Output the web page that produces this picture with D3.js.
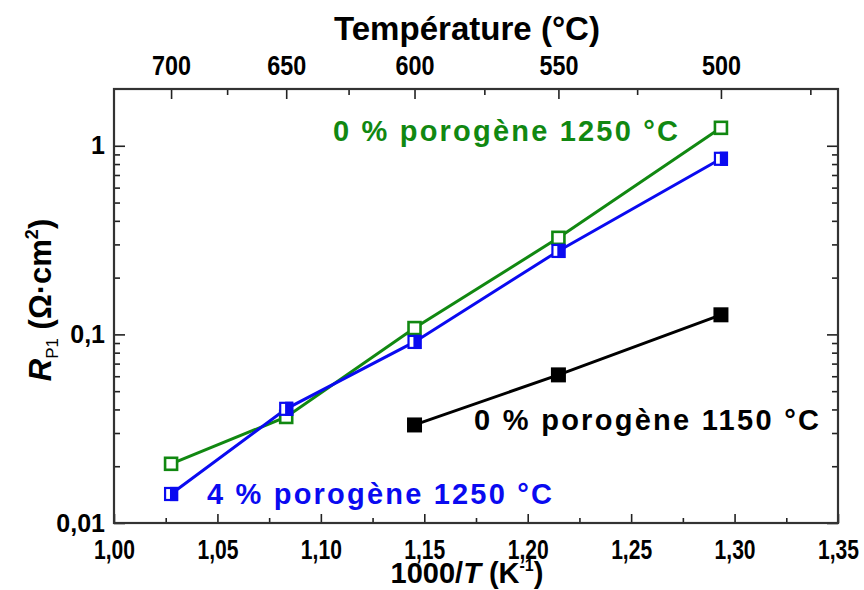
<!DOCTYPE html>
<html>
<head>
<meta charset="utf-8">
<script src="https://cdn.jsdelivr.net/npm/d3@7"></script>
<style>
  body { margin: 0; background: #fff; }
  svg text { font-family: "Liberation Sans", Arial, sans-serif; }
</style>
</head>
<body>
<svg id="chart" width="864" height="590"></svg>
<script>
// temperatures (°C) of the measurement points, x = 1000/T(K)
var tempsC = [700, 650, 600, 550, 500];
var tempsBlack = [600, 550, 500];

// R_P1 values (ohm.cm2)
var rGreen = [0.0206, 0.0365, 0.108, 0.325, 1.245];   // 0 % porogene 1250 °C
var rBlue  = [0.01425, 0.0403, 0.0912, 0.277, 0.853]; // 4 % porogene 1250 °C
var rBlack = [0.0331, 0.061, 0.127];                  // 0 % porogene 1150 °C

var xMajor = [1.00, 1.05, 1.10, 1.15, 1.20, 1.25, 1.30, 1.35];
var xMinor = [1.025, 1.075, 1.125, 1.175, 1.225, 1.275, 1.325];
var topMajor = [700, 650, 600, 550, 500];
var topMinor = [675, 625, 575, 525, 475];
var yMajor = [0.01, 0.1, 1];
var yLabels = ["0,01", "0,1", "1"];

var toX = function(c) { return 1000 / (c + 273.15); };

var margin = {left: 114, top: 89, right: 26, bottom: 67};
var width = 864 - margin.left - margin.right;
var height = 590 - margin.top - margin.bottom;

var svg = d3.select("#chart");
var g = svg.append("g").attr("transform", "translate(" + margin.left + "," + margin.top + ")");

var x = d3.scaleLinear().domain([1.00, 1.35]).range([0, width]);
var y = d3.scaleLog().domain([0.01, 2.0]).range([height, 0]);

var yMinor = [];
[0.01, 0.1, 1].forEach(function(d) {
  for (var k = 2; k <= 9; k++) { if (d * k < 2.0) yMinor.push(d * k); }
});

function styleAxis(sel) {
  sel.select(".domain").remove();
  sel.selectAll("line").attr("stroke", "#222").attr("stroke-width", 1.6);
  return sel;
}

// narrow bold tick labels: squeeze the glyphs to the width seen in the chart
function narrowLabels(s) {
  s.selectAll("text")
      .attr("font-size", 27).attr("font-weight", "bold").attr("fill", "#000")
      .attr("lengthAdjust", "spacingAndGlyphs")
      .attr("textLength", function() { return this.textContent.length > 3 ? 41 : 39; });
}

// bottom axis
g.append("g").attr("transform", "translate(0," + height + ")")
    .call(d3.axisBottom(x).tickValues(xMinor).tickSize(-5).tickFormat(""))
    .call(styleAxis);
g.append("g").attr("transform", "translate(0," + height + ")")
    .call(d3.axisBottom(x).tickValues(xMajor).tickSizeInner(-9).tickSizeOuter(0).tickPadding(17)
      .tickFormat(function(d) { return d3.format(".2f")(d).replace(".", ","); }))
    .call(styleAxis)
    .call(narrowLabels);

// top axis (temperature)
g.append("g")
    .call(d3.axisTop(x).tickValues(topMinor.map(toX)).tickSize(-6).tickFormat(""))
    .call(styleAxis);
g.append("g")
    .call(d3.axisTop(x).tickValues(topMajor.map(toX)).tickSizeInner(-10).tickSizeOuter(0).tickPadding(14)
      .tickFormat(function(d, i) { return topMajor[i]; }))
    .call(styleAxis)
    .call(narrowLabels);

// left axis
g.append("g")
    .call(d3.axisLeft(y).tickValues(yMinor).tickSize(-6).tickFormat(""))
    .call(styleAxis);
g.append("g")
    .call(d3.axisLeft(y).tickValues(yMajor).tickSizeInner(-11).tickSizeOuter(0).tickPadding(9)
      .tickFormat(function(d, i) { return yLabels[i]; }))
    .call(styleAxis)
    .call(function(s) {
      s.selectAll("text").attr("font-size", 25).attr("font-weight", "bold").attr("fill", "#000");
    });

// right axis (mirror, no labels)
g.append("g").attr("transform", "translate(" + width + ",0)")
    .call(d3.axisRight(y).tickValues(yMinor).tickSize(-6).tickFormat(""))
    .call(styleAxis);
g.append("g").attr("transform", "translate(" + width + ",0)")
    .call(d3.axisRight(y).tickValues(yMajor).tickSize(-11).tickFormat(""))
    .call(styleAxis);

// frame
g.append("rect").attr("width", width).attr("height", height)
    .attr("fill", "none").attr("stroke", "#333").attr("stroke-width", 2.2);

// series
var series = [
  {temps: tempsC, vals: rGreen, color: "#118811", kind: "open"},
  {temps: tempsC, vals: rBlue, color: "#0a0af0", kind: "half"},
  {temps: tempsBlack, vals: rBlack, color: "#000", kind: "filled"}
];

var line = d3.line()
    .x(function(d) { return x(toX(d[0])); })
    .y(function(d) { return y(d[1]); });

series.forEach(function(s) {
  var pts = d3.zip(s.temps, s.vals);
  g.append("path").datum(pts)
      .attr("d", line).attr("fill", "none")
      .attr("stroke", s.color).attr("stroke-width", 3);
});

var sz = 12;
series.forEach(function(s) {
  var pts = d3.zip(s.temps, s.vals);
  var mk = g.append("g").selectAll("g").data(pts).join("g")
      .attr("transform", function(d) { return "translate(" + x(toX(d[0])) + "," + y(d[1]) + ")"; });
  if (s.kind === "open") {
    mk.append("rect").attr("x", -sz / 2).attr("y", -sz / 2).attr("width", sz).attr("height", sz)
        .attr("fill", "#fff").attr("stroke", s.color).attr("stroke-width", 2.6);
  } else if (s.kind === "half") {
    mk.append("rect").attr("x", -sz / 2).attr("y", -sz / 2).attr("width", sz).attr("height", sz)
        .attr("fill", "#fff").attr("stroke", s.color).attr("stroke-width", 2.2);
    mk.append("rect").attr("x", 0).attr("y", -sz / 2).attr("width", sz / 2).attr("height", sz)
        .attr("fill", s.color).attr("stroke", s.color).attr("stroke-width", 2.2);
  } else {
    mk.append("rect").attr("x", -sz / 2 - 1.5).attr("y", -sz / 2 - 1.5).attr("width", sz + 3).attr("height", sz + 3)
        .attr("fill", s.color);
  }
});

// series labels
var labels = [
  {text: "0 % porogène 1250 °C", x: 333, y: 141, color: "#118811"},
  {text: "4 % porogène 1250 °C", x: 207, y: 504, color: "#0a0af0"},
  {text: "0 % porogène 1150 °C", x: 474, y: 430, color: "#000"}
];
svg.append("g").selectAll("text").data(labels).join("text")
    .attr("x", function(d) { return d.x; }).attr("y", function(d) { return d.y; })
    .attr("fill", function(d) { return d.color; })
    .attr("font-size", 29).attr("font-weight", "bold")
    .attr("lengthAdjust", "spacing").attr("textLength", 345)
    .text(function(d) { return d.text; });

// axis titles
svg.append("text")
    .attr("x", 467).attr("y", 40)
    .attr("text-anchor", "middle").attr("font-size", 33).attr("font-weight", "bold")
    .attr("lengthAdjust", "spacingAndGlyphs").attr("textLength", 266)
    .text("Température (°C)");

var xt = svg.append("text")
    .attr("x", 467).attr("y", 583)
    .attr("text-anchor", "middle").attr("font-size", 29).attr("font-weight", "bold");
xt.append("tspan").text("1000/");
xt.append("tspan").attr("font-style", "italic").text("T");
xt.append("tspan").text(" (K");
xt.append("tspan").attr("font-size", 16).attr("dy", -12).text("-1");
xt.append("tspan").attr("dy", 12).text(")");

var yt = svg.append("text")
    .attr("transform", "translate(51,300) rotate(-90)")
    .attr("text-anchor", "middle").attr("font-size", 31).attr("font-weight", "bold");
yt.append("tspan").attr("font-style", "italic").text("R");
yt.append("tspan").attr("font-size", 17).attr("font-weight", "normal").attr("dy", 7).text("P1");
yt.append("tspan").attr("dy", -7).text(" (Ω·cm");
yt.append("tspan").attr("font-size", 18).attr("dy", -13).text("2");
yt.append("tspan").attr("dy", 13).text(")");
</script>
</body>
</html>
